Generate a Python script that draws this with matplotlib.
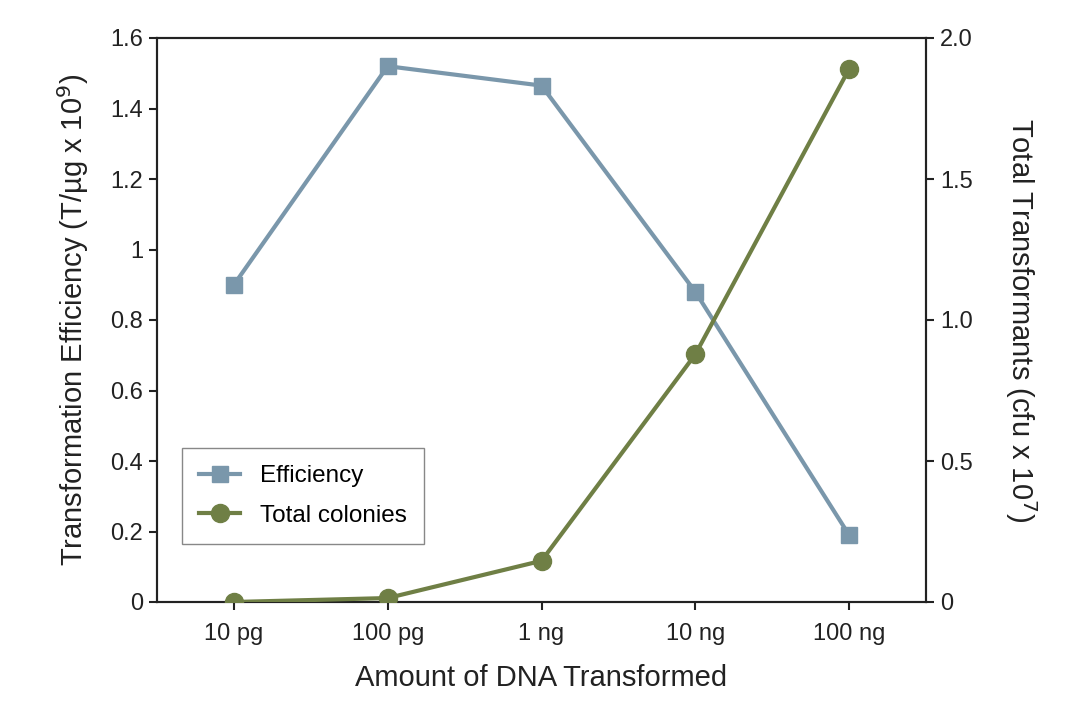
import matplotlib
matplotlib.use('Agg')
import matplotlib.pyplot as plt
import numpy as np

plt.rcParams['font.family'] = ['Liberation Sans', 'DejaVu Sans']

amounts = ['10 pg', '100 pg', '1 ng', '10 ng', '100 ng']
efficiency = [0.90, 1.52, 1.465, 0.88, 0.19]
colonies = [0.0, 0.014, 0.146, 0.878, 1.89]

left_ticks = [0, 0.2, 0.4, 0.6, 0.8, 1.0, 1.2, 1.4, 1.6]
left_labels = ['0', '0.2', '0.4', '0.6', '0.8', '1', '1.2', '1.4', '1.6']
right_ticks = [0, 0.5, 1.0, 1.5, 2.0]
right_labels = ['0', '0.5', '1.0', '1.5', '2.0']

blue = '#7a97ab'
green = '#6f7f45'

x = np.arange(len(amounts))

fig = plt.figure(figsize=(10.88, 7.13), dpi=100)
ax = fig.add_axes([157/1088, 1-602/713, (926-157)/1088, (602-38)/713])
ax2 = ax.twinx()

l1, = ax.plot(x, efficiency, color=blue, lw=3, marker='s', ms=12,
              label='Efficiency', zorder=3)
l2, = ax2.plot(x, colonies, color=green, lw=3, marker='o', ms=13,
               label='Total colonies', zorder=3)

ax.set_xlim(-0.5, 4.5)
ax.set_ylim(0, 1.6)
ax2.set_ylim(0, 2.0)

ax.set_xticks(x)
ax.set_xticklabels(amounts)
ax.set_yticks(left_ticks)
ax.set_yticklabels(left_labels)
ax2.set_yticks(right_ticks)
ax2.set_yticklabels(right_labels)

for a in (ax, ax2):
    a.tick_params(direction='out', length=6, width=1.5, labelsize=17, pad=4, colors='#222222')
    for s in a.spines.values():
        s.set_linewidth(1.5)
        s.set_color('#222222')
ax.tick_params(axis='x', pad=9)

ax.set_xlabel('Amount of DNA Transformed', fontsize=21, labelpad=14, color='#222222')
ax.set_ylabel('Transformation Efficiency (T/µg x 10$^9$)', fontsize=21, labelpad=14, color='#222222')
ax2.set_ylabel('Total Transformants (cfu x 10$^7$)', fontsize=21, rotation=-90,
               labelpad=48, color='#222222')

leg = ax.legend(handles=[l1, l2], loc='lower left', bbox_to_anchor=(0.0325, 0.103),
                borderaxespad=0, fontsize=17.5, fancybox=False, edgecolor='#888888',
                framealpha=1, handlelength=1.7, borderpad=0.7, labelspacing=0.72,
                handletextpad=0.8)
leg.get_frame().set_linewidth(1)

fig.savefig('out.png', dpi=100)
